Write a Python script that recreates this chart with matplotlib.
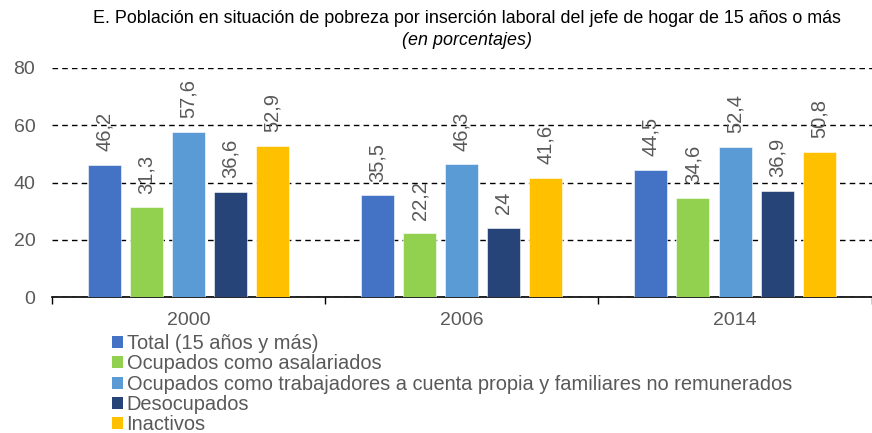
import numpy as np
import matplotlib.pyplot as plt
from matplotlib.patches import Patch

plt.rcParams['font.family'] = ['Liberation Sans', 'DejaVu Sans']

years = ['2000', '2006', '2014']
series = ['Total (15 años y más)',
          'Ocupados como asalariados',
          'Ocupados como trabajadores a cuenta propia y familiares no remunerados',
          'Desocupados',
          'Inactivos']
total = [46.2, 35.5, 44.5]
asalariados = [31.3, 22.2, 34.6]
cuenta_propia = [57.6, 46.3, 52.4]
desocupados = [36.6, 24, 36.9]
inactivos = [52.9, 41.6, 50.8]
labels = [['46,2', '35,5', '44,5'],
          ['31,3', '22,2', '34,6'],
          ['57,6', '46,3', '52,4'],
          ['36,6', '24', '36,9'],
          ['52,9', '41,6', '50,8']]
colors = ['#4472C4', '#92D050', '#5B9BD5', '#264478', '#FFC000']

values = [total, asalariados, cuenta_propia, desocupados, inactivos]
gray = '#595959'

fig = plt.figure(figsize=(8.72, 4.33), dpi=100)
ax = fig.add_axes([0.0596, 0.314, 0.94, 0.529])

centers = np.arange(len(years)) + 0.5
width = 0.121
stride = 0.154
for i, vals in enumerate(values):
    xs = centers + (i - 2) * stride
    bars = ax.bar(xs, vals, width, color=colors[i], zorder=3,
                  edgecolor='white', linewidth=0.4)
    for b, lab in zip(bars, labels[i]):
        ax.annotate(lab, (b.get_x() + b.get_width() / 2, b.get_height()),
                    xytext=(0, 10), textcoords='offset points',
                    rotation=90, ha='center', va='bottom',
                    fontsize=14.5, color=gray, zorder=4)

ax.set_xlim(0, 3)
ax.set_ylim(0, 80)
ax.set_yticks([0, 20, 40, 60, 80])
ax.yaxis.grid(True, color='black', linestyle=(0, (4, 3)), linewidth=1)
ax.set_axisbelow(True)
ax.tick_params(axis='y', length=0, labelsize=14, labelcolor=gray, pad=12)
ax.set_xticks(centers)
ax.set_xticklabels(years)
ax.tick_params(axis='x', which='major', length=0, labelsize=14,
               labelcolor=gray, pad=11)
ax.set_xticks([0, 1, 2, 3], minor=True)
ax.tick_params(axis='x', which='minor', length=5, width=1, color='black')
for s in ['top', 'right', 'left']:
    ax.spines[s].set_visible(False)
ax.spines['bottom'].set_color('black')
ax.spines['bottom'].set_linewidth(1.2)

fig.text(0.535, 0.957, 'E. Población en situación de pobreza por inserción laboral del jefe de hogar de 15 años o más',
         ha='center', va='center', fontsize=12.9, color='black')
fig.text(0.535, 0.907, '(en porcentajes)', ha='center', va='center',
         fontsize=12.9, style='italic', color='black')

handles = [Patch(facecolor=c) for c in colors]
fig.legend(handles, series, loc='upper left', bbox_to_anchor=(0.128, 0.228),
           frameon=False, fontsize=14.4, labelcolor=gray,
           handlelength=0.55, handleheight=0.55, handletextpad=0.2,
           labelspacing=0.06, borderaxespad=0, borderpad=0)

fig.savefig('out.png', dpi=100)
